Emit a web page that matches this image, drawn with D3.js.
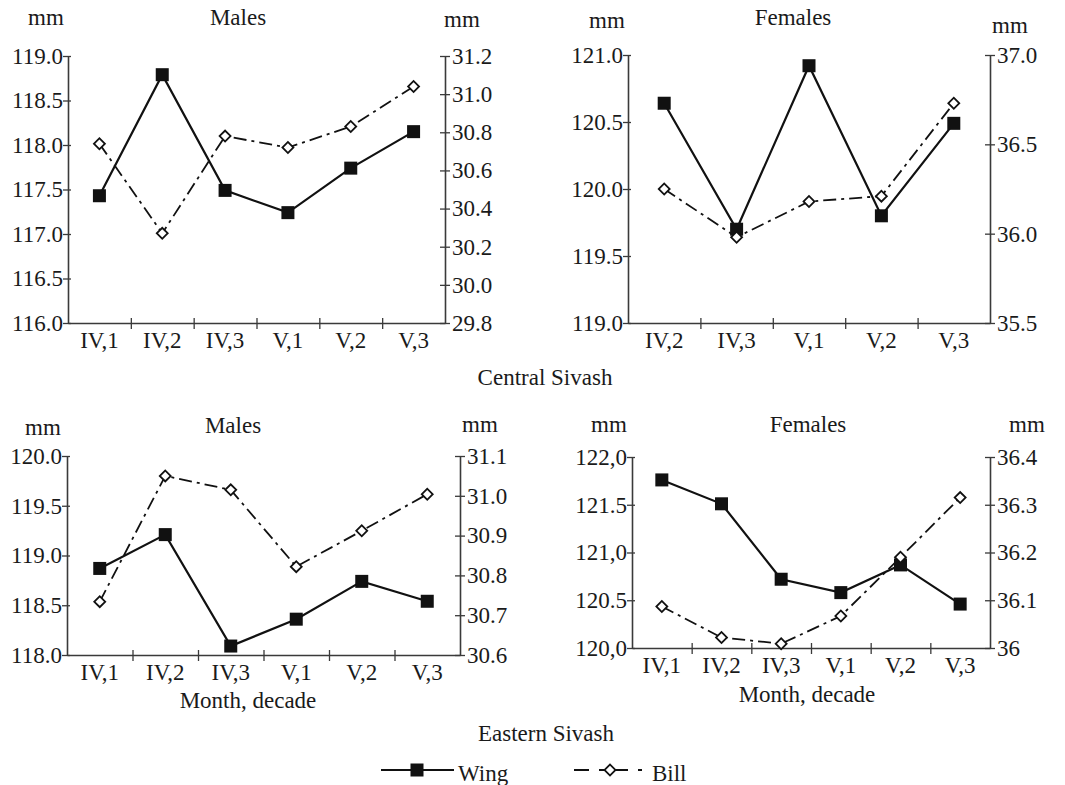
<!DOCTYPE html>
<html>
<head>
<meta charset="utf-8">
<script src="https://cdn.jsdelivr.net/npm/d3@7"></script>
<style>
  body { margin: 0; background: #fff; }
</style>
</head>
<body>
<svg id="chart"></svg>
<script>
// Central Sivash
const catsCentralMales   = ["IV,1", "IV,2", "IV,3", "V,1", "V,2", "V,3"];
const wingCentralMales   = [117.43, 118.79, 117.49, 117.24, 117.74, 118.15];
const billCentralMales   = [30.74, 30.27, 30.78, 30.72, 30.83, 31.04];
const catsCentralFemales = ["IV,2", "IV,3", "V,1", "V,2", "V,3"];
const wingCentralFemales = [120.64, 119.70, 120.92, 119.80, 120.49];
const billCentralFemales = [36.25, 35.98, 36.18, 36.21, 36.73];

// Eastern Sivash
const catsEasternMales   = ["IV,1", "IV,2", "IV,3", "V,1", "V,2", "V,3"];
const wingEasternMales   = [118.87, 119.21, 118.09, 118.36, 118.74, 118.54];
const billEasternMales   = [30.734, 31.05, 31.015, 30.822, 30.912, 31.004];
const catsEasternFemales = ["IV,1", "IV,2", "IV,3", "V,1", "V,2", "V,3"];
const wingEasternFemales = [121.76, 121.51, 120.72, 120.58, 120.87, 120.46];
const billEasternFemales = [36.087, 36.022, 36.009, 36.067, 36.19, 36.315];

// tick values and labels
const ticksLeftCM  = [116.0, 116.5, 117.0, 117.5, 118.0, 118.5, 119.0];
const labelsLeftCM = ["116.0", "116.5", "117.0", "117.5", "118.0", "118.5", "119.0"];
const ticksRightCM  = [29.8, 30.0, 30.2, 30.4, 30.6, 30.8, 31.0, 31.2];
const labelsRightCM = ["29.8", "30.0", "30.2", "30.4", "30.6", "30.8", "31.0", "31.2"];
const ticksLeftCF  = [119.0, 119.5, 120.0, 120.5, 121.0];
const labelsLeftCF = ["119.0", "119.5", "120.0", "120.5", "121.0"];
const ticksRightCF  = [35.5, 36.0, 36.5, 37.0];
const labelsRightCF = ["35.5", "36.0", "36.5", "37.0"];
const ticksLeftEM  = [118.0, 118.5, 119.0, 119.5, 120.0];
const labelsLeftEM = ["118.0", "118.5", "119.0", "119.5", "120.0"];
const ticksRightEM  = [30.6, 30.7, 30.8, 30.9, 31.0, 31.1];
const labelsRightEM = ["30.6", "30.7", "30.8", "30.9", "31.0", "31.1"];
const ticksLeftEF  = [120.0, 120.5, 121.0, 121.5, 122.0];
const labelsLeftEF = ["120,0", "120.5", "121,0", "121.5", "122,0"];
const ticksRightEF  = [36.0, 36.1, 36.2, 36.3, 36.4];
const labelsRightEF = ["36", "36.1", "36.2", "36.3", "36.4"];

const W = 1065, H = 785;
const FONT = 23;
const FAMILY = '"Liberation Serif", "Times New Roman", Tinos, "DejaVu Serif", serif';
const INK = "#111";
const AXIS = "#3a3a3a";
const BILL_DASH = "13,5,3,5";

const svg = d3.select("#chart").attr("width", W).attr("height", H)
  .attr("font-family", FAMILY);
svg.append("rect").attr("width", W).attr("height", H).attr("fill", "#fff");

function txt(x, y, s, anchor) {
  return svg.append("text").attr("x", x).attr("y", y).attr("text-anchor", anchor || "middle")
    .attr("font-family", FAMILY).attr("font-size", FONT).attr("fill", "#1a1a1a").text(s);
}

function panel(p) {
  const g = svg.append("g");
  const x = d3.scaleBand().domain(p.cats).range([p.x0, p.x1]).paddingInner(0).paddingOuter(0);
  const yL = d3.scaleLinear().domain(d3.extent(p.ticksL)).range([p.y1, p.y0]);
  const yR = d3.scaleLinear().domain(d3.extent(p.ticksR)).range([p.y1, p.y0]);
  const xb = d3.scaleLinear().domain([0, p.cats.length]).range([p.x0, p.x1]);

  const gl = g.append("g").attr("transform", `translate(${p.x0},0)`)
    .call(d3.axisLeft(yL).tickValues(p.ticksL).tickFormat((d, i) => p.labelsL[i])
      .tickSizeInner(5).tickSizeOuter(0).tickPadding(0));
  const gr = g.append("g").attr("transform", `translate(${p.x1},0)`)
    .call(d3.axisRight(yR).tickValues(p.ticksR).tickFormat((d, i) => p.labelsR[i])
      .tickSizeInner(5).tickSizeOuter(0).tickPadding(2));
  const gb = g.append("g").attr("transform", `translate(0,${p.y1})`)
    .call(d3.axisBottom(xb).tickValues(d3.range(1, p.cats.length)).tickFormat("").tickSizeOuter(0));
  g.append("g").selectAll("text").data(p.cats).join("text")
    .attr("x", d => x(d) + x.bandwidth() / 2).attr("y", p.y1 + 25)
    .attr("text-anchor", "middle").attr("font-family", FAMILY).attr("font-size", FONT)
    .attr("fill", "#1a1a1a").text(d => d);

  [gl, gr, gb].forEach(a => {
    a.attr("font-family", FAMILY).attr("font-size", FONT);
    a.select(".domain").attr("stroke", AXIS).attr("stroke-width", 1.6);
    a.selectAll(".tick line").attr("stroke", AXIS).attr("stroke-width", 1.3);
    a.selectAll(".tick text").attr("fill", "#1a1a1a");
  });
  gl.selectAll(".tick line").attr("x1", 3).attr("x2", -5);
  gr.selectAll(".tick line").attr("x1", -5).attr("x2", 5);
  gb.selectAll(".tick line").attr("y1", -5).attr("y2", 6);

  const cx = d => x(d) + x.bandwidth() / 2;
  const wing = p.cats.map((c, i) => ({ c, v: p.wing[i] }));
  const bill = p.cats.map((c, i) => ({ c, v: p.bill[i] }));

  g.append("path").datum(wing)
    .attr("d", d3.line().x(d => cx(d.c)).y(d => yL(d.v)))
    .attr("fill", "none").attr("stroke", INK).attr("stroke-width", 2.2);
  g.append("path").datum(bill)
    .attr("d", d3.line().x(d => cx(d.c)).y(d => yR(d.v)))
    .attr("fill", "none").attr("stroke", INK).attr("stroke-width", 1.8).attr("stroke-dasharray", BILL_DASH);

  g.selectAll("rect.wing").data(wing).join("rect").attr("class", "wing")
    .attr("x", d => cx(d.c) - 6.5).attr("y", d => yL(d.v) - 6.5)
    .attr("width", 13).attr("height", 13).attr("fill", INK);
  g.selectAll("path.bill").data(bill).join("path").attr("class", "bill")
    .attr("d", d3.symbol(d3.symbolSquare, 60))
    .attr("transform", d => `translate(${cx(d.c)},${yR(d.v)}) rotate(45)`)
    .attr("fill", "#fff").attr("stroke", INK).attr("stroke-width", 1.8);

  txt(p.mmL[0], p.mmL[1], "mm");
  txt(p.mmR[0], p.mmR[1], "mm");
  txt(p.title[0], p.title[1], p.titleText);
  if (p.xTitle) txt(p.xTitle[0], p.xTitle[1], "Month, decade");
}

panel({ cats: catsCentralMales, wing: wingCentralMales, bill: billCentralMales,
  ticksL: ticksLeftCM, labelsL: labelsLeftCM, ticksR: ticksRightCM, labelsR: labelsRightCM,
  x0: 68, x1: 445, y0: 56, y1: 323,
  mmL: [46, 25], mmR: [462, 27], title: [238, 25], titleText: "Males" });

panel({ cats: catsCentralFemales, wing: wingCentralFemales, bill: billCentralFemales,
  ticksL: ticksLeftCF, labelsL: labelsLeftCF, ticksR: ticksRightCF, labelsR: labelsRightCF,
  x0: 628, x1: 990, y0: 55, y1: 323,
  mmL: [607, 28], mmR: [1010, 33], title: [793, 25], titleText: "Females" });

panel({ cats: catsEasternMales, wing: wingEasternMales, bill: billEasternMales,
  ticksL: ticksLeftEM, labelsL: labelsLeftEM, ticksR: ticksRightEM, labelsR: labelsRightEM,
  x0: 67, x1: 460, y0: 456, y1: 655,
  mmL: [43, 435], mmR: [480, 432], title: [233, 433], titleText: "Males", xTitle: [248, 708] });

panel({ cats: catsEasternFemales, wing: wingEasternFemales, bill: billEasternFemales,
  ticksL: ticksLeftEF, labelsL: labelsLeftEF, ticksR: ticksRightEF, labelsR: labelsRightEF,
  x0: 632, x1: 990, y0: 457, y1: 648,
  mmL: [609, 432], mmR: [1027, 432], title: [808, 432], titleText: "Females", xTitle: [807, 702] });

txt(545, 385, "Central Sivash");
txt(546, 741, "Eastern Sivash");

// legend
const lg = svg.append("g");
lg.append("line").attr("x1", 381).attr("x2", 454).attr("y1", 770).attr("y2", 770)
  .attr("stroke", INK).attr("stroke-width", 2.2);
lg.append("rect").attr("x", 417 - 6.5).attr("y", 770 - 6.5).attr("width", 13).attr("height", 13).attr("fill", INK);
txt(458, 781, "Wing", "start");
lg.append("line").attr("x1", 574).attr("x2", 643).attr("y1", 770).attr("y2", 770)
  .attr("stroke", INK).attr("stroke-width", 2.2).attr("stroke-dasharray", "15,10,29,10,4");
lg.append("path").attr("d", d3.symbol(d3.symbolSquare, 60)).attr("transform", "translate(610,770) rotate(45)")
  .attr("fill", "#fff").attr("stroke", INK).attr("stroke-width", 1.8);
txt(652, 781, "Bill", "start");
</script>
</body>
</html>
